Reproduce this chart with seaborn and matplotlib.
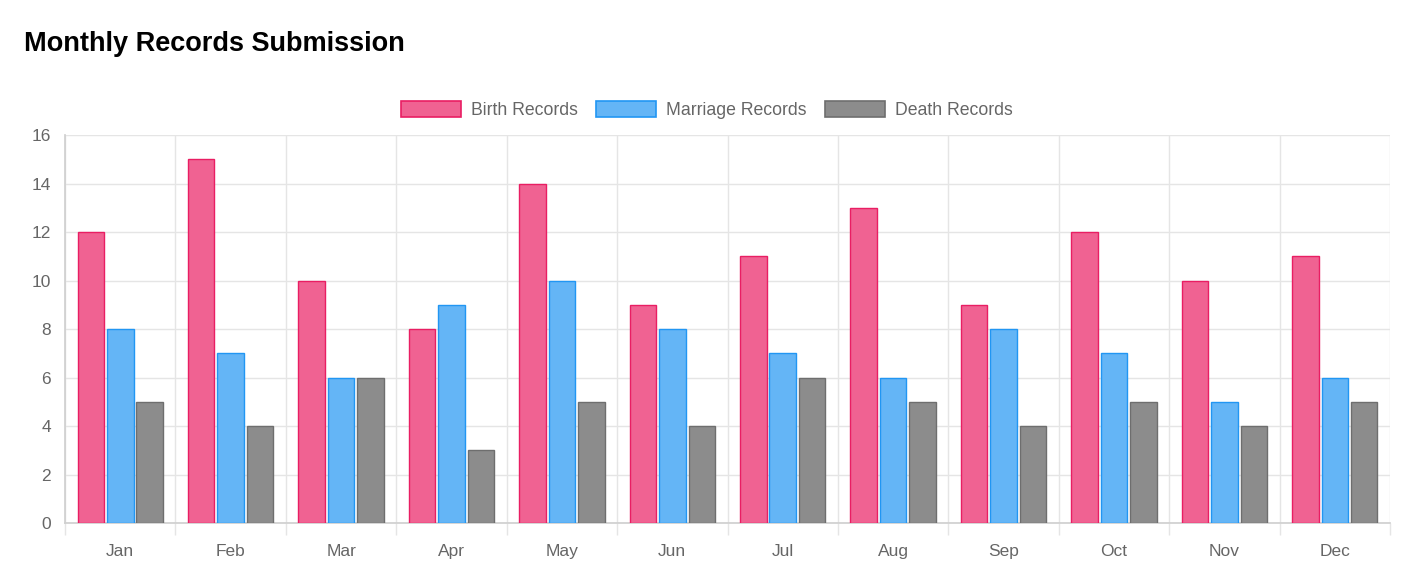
import pandas as pd
import matplotlib.pyplot as plt
import seaborn as sns
from matplotlib.patches import Patch

# Monthly counts
months = ['Jan', 'Feb', 'Mar', 'Apr', 'May', 'Jun', 'Jul', 'Aug', 'Sep', 'Oct', 'Nov', 'Dec']
birth_records = [12, 15, 10, 8, 14, 9, 11, 13, 9, 12, 10, 11]
marriage_records = [8, 7, 6, 9, 10, 8, 7, 6, 8, 7, 5, 6]
death_records = [5, 4, 6, 3, 5, 4, 6, 5, 4, 5, 4, 5]

series_names = ['Birth Records', 'Marriage Records', 'Death Records']
fill_colors = ['#F06292', '#64B5F6', '#8C8C8C']
edge_colors = ['#E91E63', '#2196F3', '#6E6E6E']

df = pd.DataFrame({
    'month': months * 3,
    'series': [series_names[0]] * 12 + [series_names[1]] * 12 + [series_names[2]] * 12,
    'value': birth_records + marriage_records + death_records,
})

sns.set_theme(style='white')
plt.rcParams['font.family'] = ['Liberation Sans', 'DejaVu Sans']

fig = plt.figure(figsize=(14.08, 5.85), dpi=100)
ax = fig.add_axes([0.0462, 0.106, 0.941, 0.663])

sns.barplot(data=df, x='month', y='value', hue='series', order=months,
            hue_order=series_names, palette=fill_colors, saturation=1,
            width=0.8, gap=0.1, legend=False, ax=ax, zorder=3)

# give each series its border colour
for container, ec in zip(ax.containers, edge_colors):
    for bar in container:
        bar.set_edgecolor(ec)
        bar.set_linewidth(1.0)

ax.set_xlim(-0.5, 11.5)
ax.set_ylim(0, 16)
ax.set_yticks(range(0, 17, 2))
ax.set_xlabel('')
ax.set_ylabel('')

# grid: horizontal at each tick, vertical at category boundaries
grid_color = '#E5E5E5'
ax.set_xticks([i - 0.5 for i in range(13)], minor=True)
ax.grid(axis='y', color=grid_color, linewidth=1, zorder=0)
ax.grid(axis='x', which='minor', color=grid_color, linewidth=1, zorder=0)
ax.tick_params(axis='x', which='major', bottom=False, length=0, pad=15,
               labelsize=12.5, labelcolor='#666666')
ax.tick_params(axis='x', which='minor', bottom=True, length=8.5, color=grid_color, width=1)
ax.tick_params(axis='y', left=False, length=0, pad=10, labelsize=12.5, labelcolor='#666666')

for side in ['top', 'right']:
    ax.spines[side].set_visible(False)
ax.spines['left'].set_color('#D0D0D0')
ax.spines['bottom'].set_color('#D0D0D0')

handles = [Patch(facecolor=fc, edgecolor=ec, linewidth=1.2, label=name)
           for fc, ec, name in zip(fill_colors, edge_colors, series_names)]
fig.legend(handles=handles, loc='center', bbox_to_anchor=(0.502, 0.812), ncol=3,
           frameon=False, fontsize=12.7, labelcolor='#666666', handlelength=3.4,
           handleheight=1.0, handletextpad=0.6, columnspacing=1.0)

fig.text(0.017, 0.925, 'Monthly Records Submission', fontsize=19.5, fontweight='bold',
         color='black', ha='left', va='center')

fig.savefig('out.png', dpi=100)
